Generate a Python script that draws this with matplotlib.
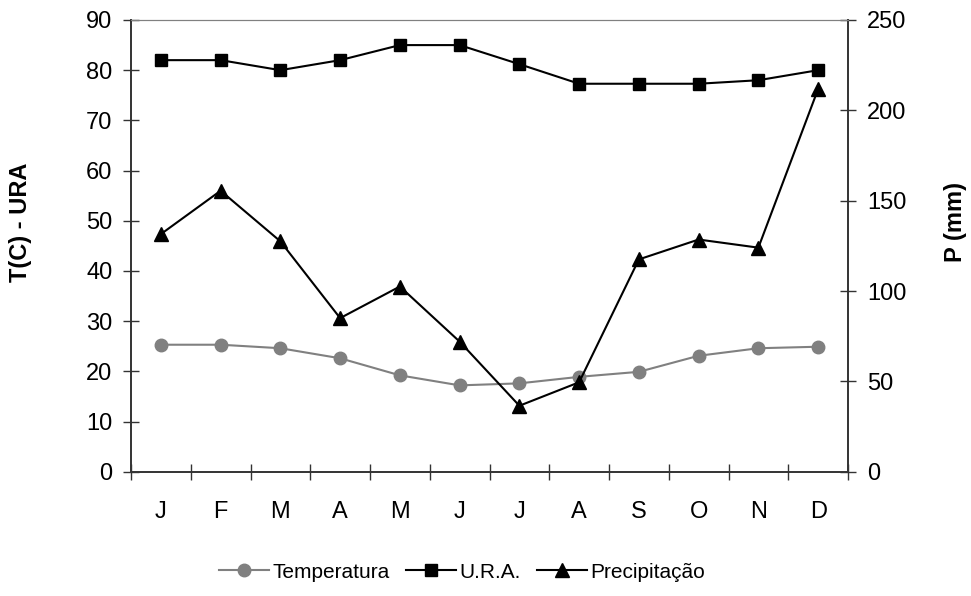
import matplotlib
matplotlib.use("Agg")
import matplotlib.pyplot as plt
import numpy as np

plt.rcParams['font.family'] = ['Liberation Sans', 'DejaVu Sans']

months = ["J", "F", "M", "A", "M", "J", "J", "A", "S", "O", "N", "D"]
temperatura = [25.3, 25.3, 24.6, 22.6, 19.2, 17.2, 17.6, 18.9, 19.9, 23.1, 24.6, 24.9]
ura = [82.0, 82.0, 80.0, 82.0, 85.0, 85.0, 81.2, 77.3, 77.3, 77.3, 78.0, 80.0]
precipitacao = [131.5, 155.5, 127.5, 85.0, 102.5, 72.0, 36.5, 49.5, 117.5, 128.5, 124.0, 211.8]

W, H = 971, 596
fig = plt.figure(figsize=(W / 100, H / 100), dpi=100)
ax = fig.add_axes([131 / W, 1 - 471.7 / H, (848 - 131) / W, (471.7 - 20) / H])
ax2 = ax.twinx()

x = np.arange(len(months))
l1, = ax.plot(x, temperatura, color='#808080', marker='o', markersize=9, linewidth=1.5,
              label='Temperatura')
l2, = ax.plot(x, ura, color='black', marker='s', markersize=9, linewidth=1.5, label='U.R.A.')
l3, = ax2.plot(x, precipitacao, color='black', marker='^', markersize=10, linewidth=1.5,
               label='Precipitação')

FS = 17
ax.set_xlim(-0.5, 11.5)
ax.set_ylim(0, 90)
ax2.set_ylim(0, 250)
ax.set_yticks(np.arange(0, 91, 10))
ax2.set_yticks(np.arange(0, 251, 50))
ax.set_xticks(np.arange(-0.5, 12, 1))
ax.set_xticklabels([])
ax.set_xticks(x, minor=True)
ax.set_xticklabels(months, minor=True)
ax.tick_params(axis='x', which='minor', length=0, labelsize=FS, pad=21)
ax.tick_params(axis='x', which='major', direction='inout', length=11, width=1, color='#333333')
ax.tick_params(axis='y', direction='inout', length=11, width=1, labelsize=FS, color='#333333', pad=8)
ax2.tick_params(axis='y', direction='inout', length=11, width=1, labelsize=FS, color='#333333', pad=8)

for a in (ax, ax2):
    a.spines['top'].set_color('#808080')
    for s in ('left', 'right', 'bottom'):
        a.spines[s].set_color('#333333')
        a.spines[s].set_linewidth(1.2)

fig.text(20 / W, 1 - 222 / H, 'T(C) - URA', fontsize=FS, fontweight='bold', rotation=90,
         ha='center', va='center')
fig.text(955 / W, 1 - 222 / H, 'P (mm)', fontsize=FS, fontweight='bold', rotation=90,
         ha='center', va='center')

leg = fig.legend(handles=[l1, l2, l3], loc='center', ncol=3, frameon=False, fontsize=15,
                 handlelength=2.4, columnspacing=0.8, handletextpad=0.15)
leg.set_bbox_to_anchor((462 / W, 1 - 572 / H), transform=fig.transFigure)

fig.savefig('out.png', dpi=100)
